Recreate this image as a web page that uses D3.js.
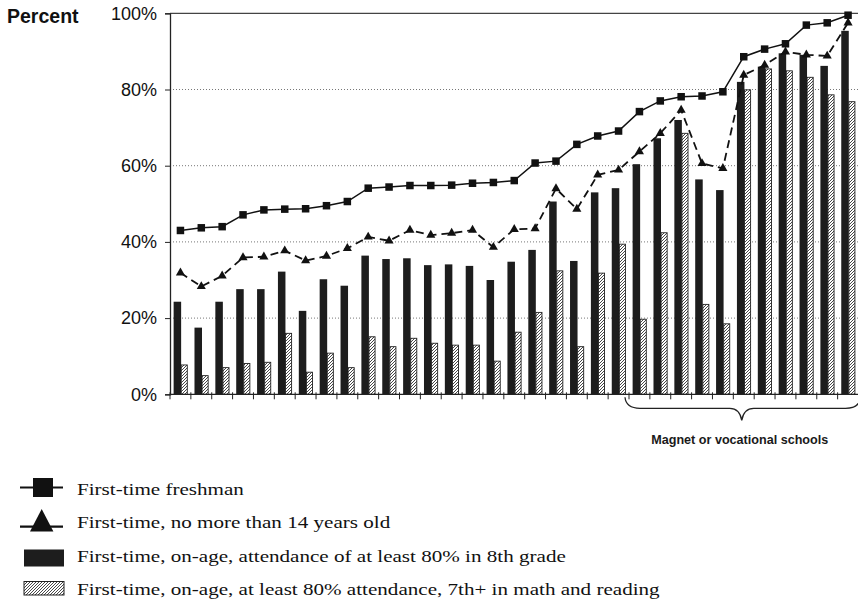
<!DOCTYPE html>
<html>
<head>
<meta charset="utf-8">
<script src="https://cdn.jsdelivr.net/npm/d3@7"></script>
<style>
  html, body { margin: 0; padding: 0; background: #fff; }
  svg { display: block; }
</style>
</head>
<body>
<svg id="chart" width="858" height="609"></svg>
<script>
// ---------------- data ----------------
const categories = ["1","2","3","4","5","6","7","8","9","10","11","12","13","14","15","16","17",
  "18","19","20","21","22","23","24","25","26","27","28","29","30","31","32","33"];
const freshman = [43.0,43.7,44.0,47.1,48.4,48.6,48.7,49.5,50.6,54.1,54.4,54.8,54.8,54.9,55.4,55.6,56.1,
  60.7,61.2,65.6,67.8,69.1,74.2,77.0,78.1,78.3,79.4,88.6,90.6,92.0,96.9,97.5,99.5];
const age14 = [31.9,28.3,31.1,35.9,36.1,37.7,35.1,36.3,38.3,41.3,40.3,43.1,41.8,42.3,43.1,38.6,43.3,
  43.5,54.0,48.6,57.6,58.9,63.7,68.5,74.6,60.6,59.3,83.8,86.4,89.9,89.1,88.8,97.5];
const attendance = [24.3,17.5,24.3,27.6,27.6,32.2,21.9,30.2,28.5,36.4,35.5,35.7,33.9,34.1,33.7,30.0,34.8,
  37.9,50.6,35.0,53.0,54.1,60.4,67.2,72.0,56.4,53.6,82.0,86.0,89.5,89.1,86.2,95.4];
const mathReading = [7.7,4.9,7.0,8.1,8.4,16.0,5.8,10.8,7.0,15.1,12.5,14.7,13.4,12.9,12.9,8.7,16.3,
  21.5,32.4,12.5,31.8,39.4,19.7,42.4,68.5,23.6,18.5,79.9,85.4,84.9,83.2,78.6,76.8];
const yTicks = [0, 20, 40, 60, 80, 100];
const magnetStart = 22; // first magnet/vocational school index
const legendLabels = [
  "First-time freshman",
  "First-time, no more than 14 years old",
  "First-time, on-age, attendance of at least 80% in 8th grade",
  "First-time, on-age, at least 80% attendance, 7th+ in math and reading"
];

(function () {
// ---------------- layout ----------------
const svg = d3.select("#chart");
const pLeft = 170, pRight = 858.5, pTop = 13.3, pBottom = 394.3;

const x = d3.scaleBand().domain(categories).range([pLeft, pRight]).padding(0);
const y = d3.scaleLinear().domain([0, 100]).range([pBottom, pTop]);
const bw = x.bandwidth();
const cx = c => x(c) + bw / 2;

const defs = svg.append("defs");
const pat = defs.append("pattern")
  .attr("id", "hatch").attr("patternUnits", "userSpaceOnUse")
  .attr("width", 3).attr("height", 3);
pat.append("rect").attr("width", 3).attr("height", 3).attr("fill", "#fff");
pat.append("path").attr("d", "M-1,1 l2,-2 M0,3 l3,-3 M2,4 l2,-2")
  .attr("stroke", "#333").attr("stroke-width", 0.9);

// gridlines
svg.append("g").selectAll("line")
  .data(yTicks.filter(t => t > 0 && t < 100))
  .join("line")
  .attr("x1", pLeft).attr("x2", pRight)
  .attr("y1", d => y(d)).attr("y2", d => y(d))
  .attr("stroke", "#777").attr("stroke-width", 1)
  .attr("stroke-dasharray", "1,2");
// top border
svg.append("line").attr("x1", pLeft).attr("x2", pRight)
  .attr("y1", y(100)).attr("y2", y(100))
  .attr("stroke", "#444").attr("stroke-width", 1.3);

// bars
const blackW = bw * 0.36, hatchW = bw * 0.29;
svg.append("g").selectAll("rect")
  .data(categories)
  .join("rect")
  .attr("x", (c) => cx(c) - blackW + 0.7)
  .attr("y", (c, i) => y(attendance[i]))
  .attr("width", blackW)
  .attr("height", (c, i) => y(0) - y(attendance[i]))
  .attr("fill", "#1d1d1d");
svg.append("g").selectAll("rect")
  .data(categories)
  .join("rect")
  .attr("x", (c) => cx(c) + 0.8)
  .attr("y", (c, i) => y(mathReading[i]))
  .attr("width", hatchW)
  .attr("height", (c, i) => y(0) - y(mathReading[i]))
  .attr("fill", "url(#hatch)")
  .attr("stroke", "#222").attr("stroke-width", 0.9);

// axes
const yAxis = d3.axisLeft(y).tickValues(yTicks).tickFormat(d => d + "%")
  .tickSize(5).tickPadding(8);
const gy = svg.append("g").attr("transform", `translate(${pLeft},0)`).call(yAxis);
gy.select(".domain").attr("stroke", "#222").attr("stroke-width", 1.3);
gy.selectAll(".tick line").attr("stroke", "#222");
gy.selectAll(".tick text")
  .attr("font-family", "'Liberation Sans', Arial, sans-serif")
  .attr("font-size", 18).attr("fill", "#111");

svg.append("line").attr("x1", pLeft).attr("x2", pRight)
  .attr("y1", y(0)).attr("y2", y(0))
  .attr("stroke", "#222").attr("stroke-width", 1.3);
const bounds = categories.map(c => x(c)).concat([pRight]);
svg.append("g").selectAll("line").data(bounds).join("line")
  .attr("x1", d => d).attr("x2", d => d)
  .attr("y1", y(0) - 2).attr("y2", y(0) + 5)
  .attr("stroke", "#222").attr("stroke-width", 1);

// lines
const lineF = d3.line().x((d, i) => cx(categories[i])).y(d => y(d));
svg.append("path").datum(age14).attr("d", lineF)
  .attr("fill", "none").attr("stroke", "#111").attr("stroke-width", 1.8)
  .attr("stroke-dasharray", "8,5");
svg.append("path").datum(freshman).attr("d", lineF)
  .attr("fill", "none").attr("stroke", "#111").attr("stroke-width", 1.5);

const sq = 7.5;
svg.append("g").selectAll("rect").data(freshman).join("rect")
  .attr("x", (d, i) => cx(categories[i]) - sq / 2)
  .attr("y", d => y(d) - sq / 2)
  .attr("width", sq).attr("height", sq).attr("fill", "#111");
const tri = d3.symbol().type(d3.symbolTriangle).size(36);
svg.append("g").selectAll("path").data(age14).join("path")
  .attr("d", tri)
  .attr("transform", (d, i) => `translate(${cx(categories[i])},${y(d)})`)
  .attr("fill", "#111");

// labels
svg.append("text").attr("x", 7).attr("y", 22.5)
  .attr("font-family", "'Liberation Sans', Arial, sans-serif")
  .attr("font-size", 19.5).attr("font-weight", "bold").attr("fill", "#111")
  .text("Percent");

// brace for magnet schools
const bx0 = x(categories[magnetStart]) - 4;
const bx1 = pRight + 2;
const tipX = (bx0 + bx1) / 2 - 1;
const by0 = y(0) + 3, by1 = by0 + 11, byTip = by0 + 23;
const brace = `M${bx0},${by0} Q${bx0 + 1},${by1} ${bx0 + 15},${by1} L${tipX - 12},${by1} Q${tipX - 2},${by1} ${tipX},${byTip} Q${tipX + 2},${by1} ${tipX + 12},${by1} L${bx1 - 15},${by1} Q${bx1 - 1},${by1} ${bx1},${by0}`;
svg.append("path").attr("d", brace).attr("fill", "none")
  .attr("stroke", "#222").attr("stroke-width", 1.3);
svg.append("text").attr("x", tipX - 2).attr("y", 444)
  .attr("text-anchor", "middle")
  .attr("font-family", "'Liberation Sans', Arial, sans-serif")
  .attr("font-size", 12.6).attr("font-weight", "bold").attr("fill", "#1a1a1a")
  .text("Magnet or vocational schools");

// legend
const legBase = [495, 528.3, 561.5, 594.5];
const lg = svg.append("g");
lg.append("line").attr("x1", 20).attr("x2", 63).attr("y1", 487.5).attr("y2", 487.5)
  .attr("stroke", "#111").attr("stroke-width", 2.2);
lg.append("rect").attr("x", 33).attr("y", 478).attr("width", 20).attr("height", 19)
  .attr("fill", "#111");
lg.append("line").attr("x1", 20).attr("x2", 63).attr("y1", 526.7).attr("y2", 526.7)
  .attr("stroke", "#111").attr("stroke-width", 2.2);
lg.append("path").attr("d", "M30,531.5 L41.7,509 L53.4,531.5 Z").attr("fill", "#111");
lg.append("rect").attr("x", 24).attr("y", 549.5).attr("width", 40).attr("height", 17)
  .attr("fill", "#1d1d1d");
lg.append("rect").attr("x", 24).attr("y", 581.5).attr("width", 40).attr("height", 13.5)
  .attr("fill", "url(#hatch)").attr("stroke", "#222").attr("stroke-width", 1);

const lt = lg.selectAll("text").data(legendLabels).join("text")
  .attr("x", 77).attr("y", (d, i) => legBase[i])
  .attr("font-family", "'Liberation Serif', 'Times New Roman', serif")
  .attr("font-size", 17).attr("fill", "#111")
  .text(d => d);
// the scanned serif face is wider than Times: stretch every line by the same factor
lt.each(function () {
  const w = this.getComputedTextLength();
  d3.select(this).attr("textLength", w * 1.24).attr("lengthAdjust", "spacingAndGlyphs");
});
})();
</script>
</body>
</html>
